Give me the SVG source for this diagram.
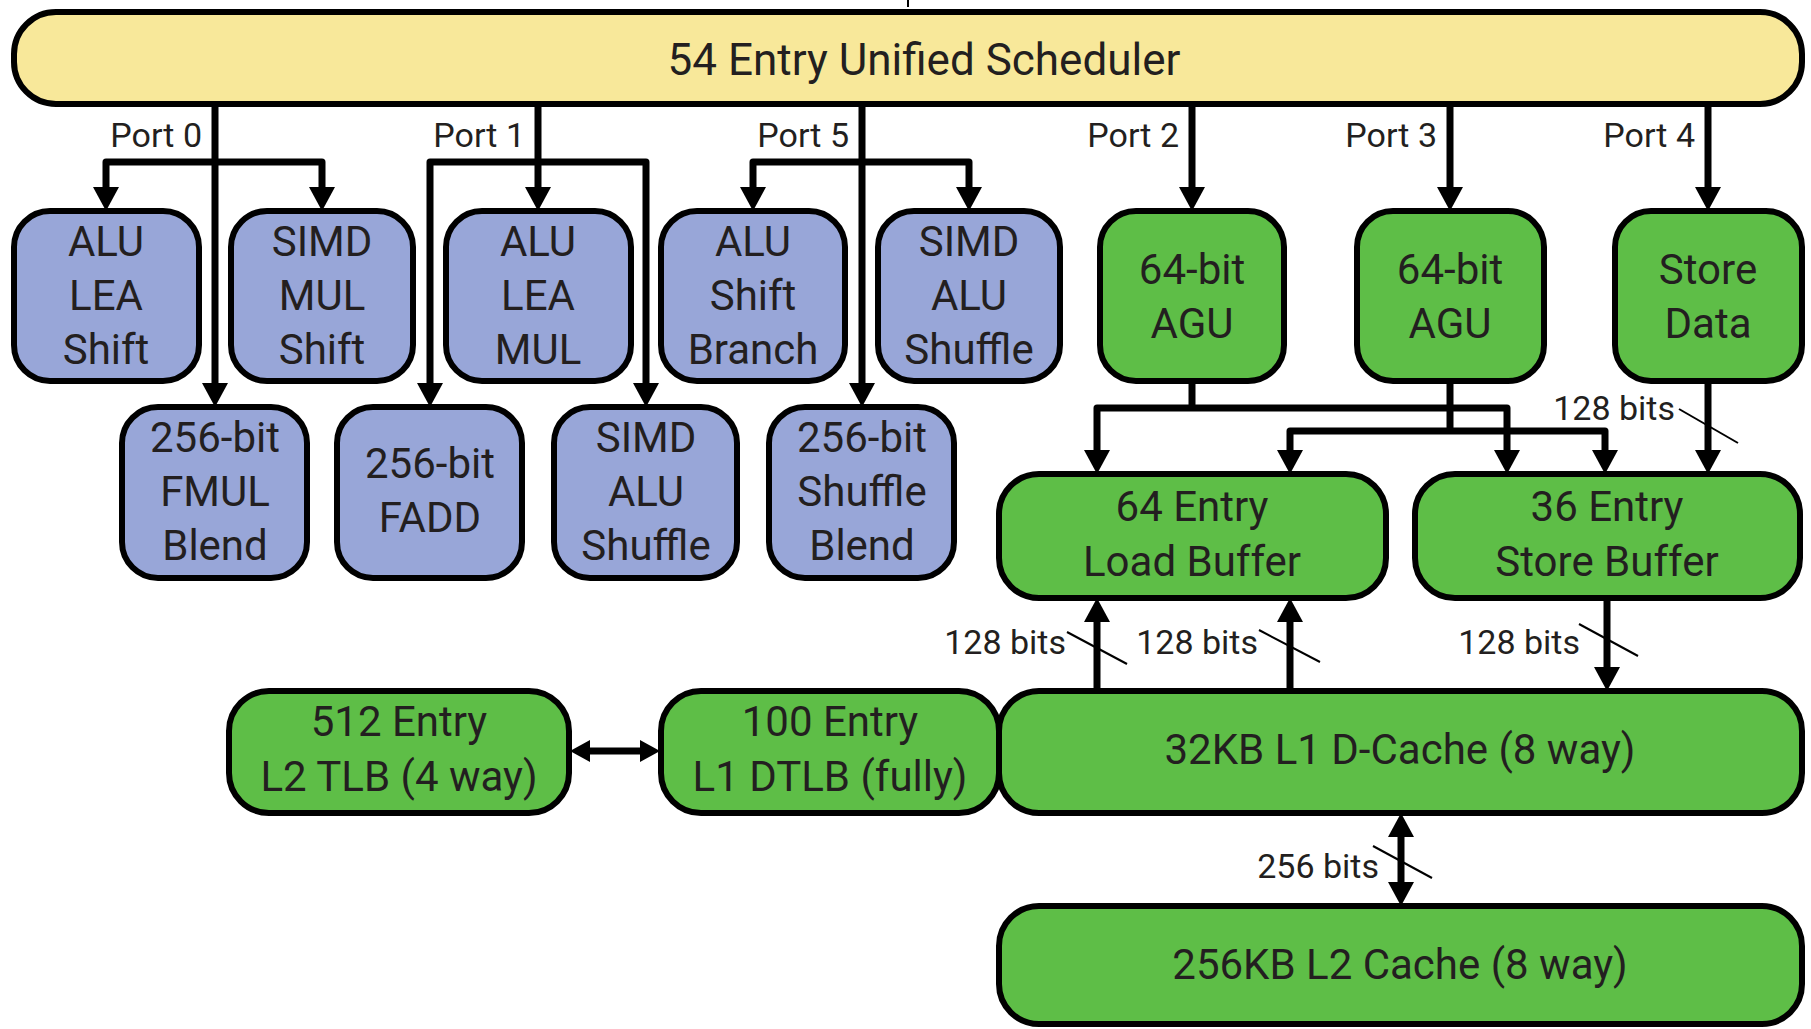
<svg xmlns="http://www.w3.org/2000/svg" width="1811" height="1029" viewBox="0 0 1811 1029">
<defs>
<style>
.box{stroke:#000;stroke-width:6}
.y{fill:#F8E89A}
.b{fill:#98A6D8}
.g{fill:#5EBE47}
.t{font-family:Roboto,"Liberation Sans",sans-serif;font-size:42px;fill:#231F20;text-anchor:middle}
.big{font-size:44px}
.lbl{font-family:Roboto,"Liberation Sans",sans-serif;font-size:34px;fill:#231F20}
.end{text-anchor:end}
.w{fill:none;stroke:#000;stroke-width:7;stroke-linejoin:round}
.sl{stroke:#000;stroke-width:2}
</style>
<marker id="ah" viewBox="0 0 24 26" refX="0" refY="13" markerWidth="24" markerHeight="26" orient="auto-start-reverse" markerUnits="userSpaceOnUse">
<path d="M0,0 L24,13 L0,26 z" fill="#000"/>
</marker>
<marker id="ahs" viewBox="0 0 20 22" refX="0" refY="11" markerWidth="20" markerHeight="22" orient="auto-start-reverse" markerUnits="userSpaceOnUse">
<path d="M0,0 L20,11 L0,22 z" fill="#000"/>
</marker>
</defs>
<rect width="1811" height="1029" fill="#fff"/>

<g id="connectors">
<line x1="908" y1="0" x2="908" y2="7" stroke="#000" stroke-width="2"/>
<!-- Port 0 -->
<path class="w" d="M215,104 V383" marker-end="url(#ah)"/>
<path class="w" d="M106,187 V162 H322 V187" marker-start="url(#ah)" marker-end="url(#ah)"/>
<!-- Port 1 -->
<path class="w" d="M538,104 V187" marker-end="url(#ah)"/>
<path class="w" d="M430,383 V162 H646 V383" marker-start="url(#ah)" marker-end="url(#ah)"/>
<!-- Port 5 -->
<path class="w" d="M862,104 V383" marker-end="url(#ah)"/>
<path class="w" d="M753,187 V162 H969 V187" marker-start="url(#ah)" marker-end="url(#ah)"/>
<!-- Port 2,3,4 -->
<path class="w" d="M1192,104 V187" marker-end="url(#ah)"/>
<path class="w" d="M1450,104 V187" marker-end="url(#ah)"/>
<path class="w" d="M1708,104 V187" marker-end="url(#ah)"/>
<!-- AGU to buffers -->
<path class="w" d="M1192,381 V408"/>
<path class="w" d="M1097,450 V408 H1507 V450" marker-start="url(#ah)" marker-end="url(#ah)"/>
<path class="w" d="M1450,381 V431"/>
<path class="w" d="M1290,450 V431 H1605 V450" marker-start="url(#ah)" marker-end="url(#ah)"/>
<!-- Store data to store buffer -->
<path class="w" d="M1708,381 V450" marker-end="url(#ah)"/>
<line class="sl" x1="1679" y1="409" x2="1738" y2="443"/>
<!-- D-cache to load buffer -->
<path class="w" d="M1097,691 V622" marker-end="url(#ah)"/>
<line class="sl" x1="1067" y1="632" x2="1127" y2="664"/>
<path class="w" d="M1290,691 V622" marker-end="url(#ah)"/>
<line class="sl" x1="1259" y1="630" x2="1320" y2="662"/>
<!-- Store buffer to D-cache -->
<path class="w" d="M1607,598 V667" marker-end="url(#ah)"/>
<line class="sl" x1="1579" y1="624" x2="1638" y2="656"/>
<!-- D-cache <-> L2 -->
<path class="w" d="M1401,837 V882" marker-start="url(#ah)" marker-end="url(#ah)"/>
<line class="sl" x1="1373" y1="846" x2="1432" y2="878"/>
<!-- TLB <-> DTLB -->
<path class="w" d="M590,751 H640" marker-start="url(#ahs)" marker-end="url(#ahs)"/>
</g>

<g id="labels">
<text class="lbl end" x="202" y="147">Port 0</text>
<text class="lbl end" x="525" y="147">Port 1</text>
<text class="lbl end" x="849" y="147">Port 5</text>
<text class="lbl end" x="1179" y="147">Port 2</text>
<text class="lbl end" x="1437" y="147">Port 3</text>
<text class="lbl end" x="1695" y="147">Port 4</text>
<text class="lbl end" x="1675" y="420">128 bits</text>
<text class="lbl end" x="1066" y="654">128 bits</text>
<text class="lbl end" x="1258" y="654">128 bits</text>
<text class="lbl end" x="1580" y="654">128 bits</text>
<text class="lbl end" x="1379" y="878">256 bits</text>
</g>

<g id="scheduler">
<rect class="box y" x="14" y="12" width="1788" height="92" rx="42"/>
<text class="t big" x="924" y="75">54 Entry Unified Scheduler</text>
</g>

<g id="alu0">
<rect class="box b" x="14" y="211" width="185" height="170" rx="36"/>
<text class="t" x="106" y="256">ALU</text><text class="t" x="106" y="310">LEA</text><text class="t" x="106" y="364">Shift</text>
</g>
<g id="simdmul">
<rect class="box b" x="231" y="211" width="182" height="170" rx="36"/>
<text class="t" x="322" y="256">SIMD</text><text class="t" x="322" y="310">MUL</text><text class="t" x="322" y="364">Shift</text>
</g>
<g id="alu1">
<rect class="box b" x="446" y="211" width="185" height="170" rx="36"/>
<text class="t" x="538" y="256">ALU</text><text class="t" x="538" y="310">LEA</text><text class="t" x="538" y="364">MUL</text>
</g>
<g id="alu5">
<rect class="box b" x="661" y="211" width="184" height="170" rx="36"/>
<text class="t" x="753" y="256">ALU</text><text class="t" x="753" y="310">Shift</text><text class="t" x="753" y="364">Branch</text>
</g>
<g id="simdalu5">
<rect class="box b" x="878" y="211" width="182" height="170" rx="36"/>
<text class="t" x="969" y="256">SIMD</text><text class="t" x="969" y="310">ALU</text><text class="t" x="969" y="364">Shuffle</text>
</g>
<g id="agu2">
<rect class="box g" x="1100" y="211" width="184" height="170" rx="36"/>
<text class="t" x="1192" y="284">64-bit</text><text class="t" x="1192" y="338">AGU</text>
</g>
<g id="agu3">
<rect class="box g" x="1357" y="211" width="187" height="170" rx="36"/>
<text class="t" x="1450" y="284">64-bit</text><text class="t" x="1450" y="338">AGU</text>
</g>
<g id="storedata">
<rect class="box g" x="1615" y="211" width="187" height="170" rx="36"/>
<text class="t" x="1708" y="284">Store</text><text class="t" x="1708" y="338">Data</text>
</g>

<g id="fmul">
<rect class="box b" x="122" y="407" width="185" height="171" rx="36"/>
<text class="t" x="215" y="452">256-bit</text><text class="t" x="215" y="506">FMUL</text><text class="t" x="215" y="560">Blend</text>
</g>
<g id="fadd">
<rect class="box b" x="337" y="407" width="185" height="171" rx="36"/>
<text class="t" x="430" y="478">256-bit</text><text class="t" x="430" y="532">FADD</text>
</g>
<g id="simdalu1">
<rect class="box b" x="554" y="407" width="183" height="171" rx="36"/>
<text class="t" x="646" y="452">SIMD</text><text class="t" x="646" y="506">ALU</text><text class="t" x="646" y="560">Shuffle</text>
</g>
<g id="shuffle5">
<rect class="box b" x="769" y="407" width="185" height="171" rx="36"/>
<text class="t" x="862" y="452">256-bit</text><text class="t" x="862" y="506">Shuffle</text><text class="t" x="862" y="560">Blend</text>
</g>

<g id="loadbuffer">
<rect class="box g" x="999" y="474" width="387" height="124" rx="40"/>
<text class="t" x="1192" y="521">64 Entry</text><text class="t" x="1192" y="576">Load Buffer</text>
</g>
<g id="storebuffer">
<rect class="box g" x="1415" y="474" width="385" height="124" rx="40"/>
<text class="t" x="1607" y="521">36 Entry</text><text class="t" x="1607" y="576">Store Buffer</text>
</g>

<g id="l2tlb">
<rect class="box g" x="229" y="691" width="340" height="122" rx="40"/>
<text class="t" x="399" y="736">512 Entry</text><text class="t" x="399" y="791">L2 TLB (4 way)</text>
</g>
<g id="l1dtlb">
<rect class="box g" x="661" y="691" width="338" height="122" rx="40"/>
<text class="t" x="830" y="736">100 Entry</text><text class="t" x="830" y="791">L1 DTLB (fully)</text>
</g>
<g id="l1dcache">
<rect class="box g" x="999" y="691" width="803" height="122" rx="40"/>
<text class="t" x="1400" y="764">32KB L1 D-Cache (8 way)</text>
</g>
<g id="l2cache">
<rect class="box g" x="999" y="906" width="803" height="118" rx="40"/>
<text class="t" x="1400" y="979">256KB L2 Cache (8 way)</text>
</g>
</svg>
